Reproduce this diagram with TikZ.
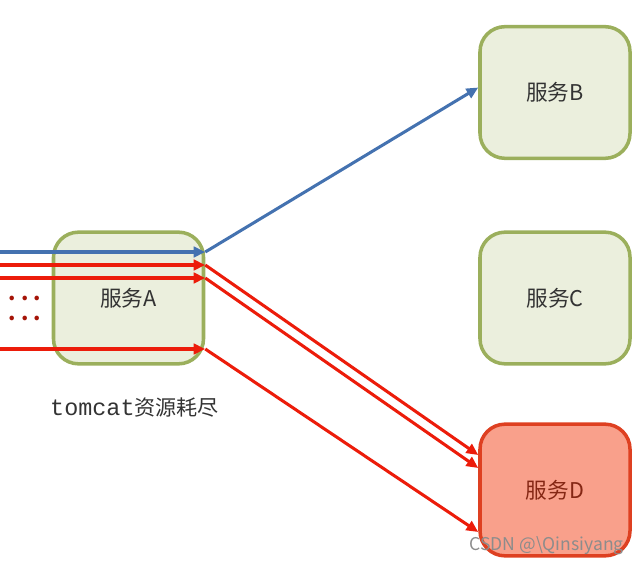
\documentclass[tikz,border=0pt]{standalone}
\usepackage{fontspec}
\setmainfont{Noto Sans CJK SC}
\setmonofont{Liberation Mono}
\usepackage{tikz}
\usetikzlibrary{arrows.meta, positioning}
\definecolor{svcGreen}{RGB}{155, 175, 92}
\definecolor{svcFill}{RGB}{235, 239, 221}
\definecolor{svcRed}{RGB}{222, 64, 33}
\definecolor{svcSalmon}{RGB}{249, 160, 139}
\definecolor{callBlue}{RGB}{68, 114, 176}
\definecolor{callRed}{RGB}{236, 28, 10}

\begin{document}
\begin{tikzpicture}[
  x=0.03cm, y=-0.03cm,
  service/.style={
    rectangle, rounded corners=0.75cm,
    minimum width=4.5cm, minimum height=3.95cm,
    draw=svcGreen, fill=svcFill, line width=3pt,
    font=\fontsize{18.5}{22}\selectfont, text=black!80
  },
  failed/.style={service, draw=svcRed, fill=svcSalmon, text=svcRed!60!black},
  ok/.style={-{Triangle[length=10pt,width=9pt]}, line width=2.6pt, color=callBlue},
  bad/.style={-{Triangle[length=10pt,width=9pt]}, line width=2.6pt, color=callRed},
  dotrow/.style={text=callRed!70!black, font=\fontsize{18}{20}\selectfont\bfseries, inner sep=0pt},
  >=Stealth
]
\useasboundingbox (0,0) rectangle (641,567);

\node[service] (a) at (128.5,298) {服务A};
\node[service] (b) at (555,92.5) {服务B};
\node[service] (c) at (555,298) {服务C};
\node[failed] (d) at (555,490) {服务D};

% incoming requests
\coordinate (in1) at (0,252);
\coordinate (in2) at (0,265);
\coordinate (in3) at (0,278);
\coordinate (in4) at (0,349);

\draw[ok] (in1) -- (in1 -| a.east) coordinate (out1);
\draw[bad] (in2) -- (in2 -| a.east) coordinate (out2);
\draw[bad] (in3) -- (in3 -| a.east) coordinate (out3);
\draw[bad] (in4) -- (in4 -| a.east) coordinate (out4);

\node[dotrow] (dots1) at (25,298) {.\hspace{4.5pt}.\hspace{4.5pt}.};
\node[dotrow] (dots2) at (25,318) {.\hspace{4.5pt}.\hspace{4.5pt}.};

% calls out of A
\draw[ok] (out1) -- ([yshift=0.15cm]b.west);
\draw[bad] (out2) -- ([yshift=1.05cm]d.west);
\draw[bad] (out3) -- ([yshift=0.66cm]d.west);
\draw[bad] (out4) -- ([yshift=-1.26cm]d.west);

\node[anchor=west, font=\fontsize{18}{22}\selectfont, text=black!80, inner sep=0pt] (note) at (50,408)
  {{\ttfamily\fontsize{20}{22}\selectfont tomcat}资源耗尽};

\node[anchor=east, font=\fontsize{15}{18}\selectfont, text=black!45] (mark) at (628,546)
  {CSDN @\textbackslash Qinsiyang};

\end{tikzpicture}
\end{document}
